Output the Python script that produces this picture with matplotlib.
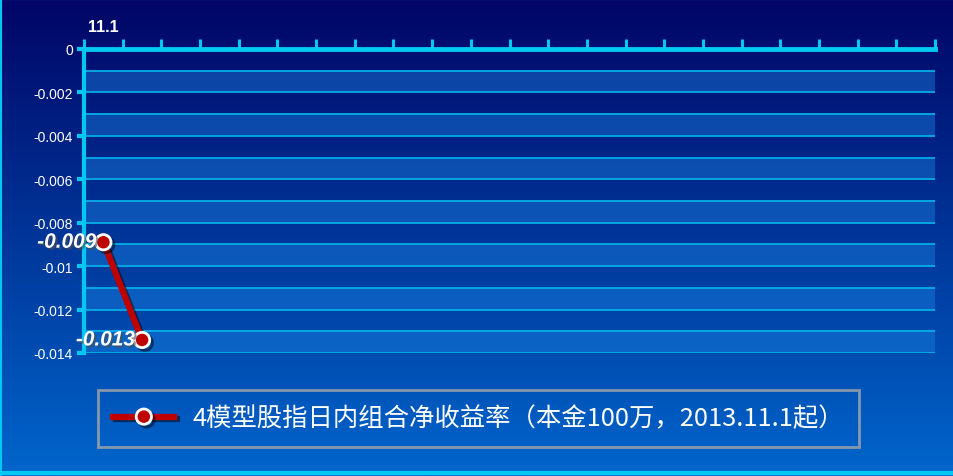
import matplotlib.pyplot as plt
import matplotlib.patheffects as pe
import numpy as np

plt.rcParams['font.family'] = ['Liberation Sans', 'DejaVu Sans']

# data
categories = ['11.1'] + [''] * 21
net_return = [-0.0089, -0.0134]
series_name = '4模型股指日内组合净收益率（本金100万，2013.11.1起）'
y_ticks = [0, -0.002, -0.004, -0.006, -0.008, -0.01, -0.012, -0.014]
y_tick_labels = ['0', '-0.002', '-0.004', '-0.006', '-0.008', '-0.01', '-0.012', '-0.014']

cyan = '#00c8f0'
grid_c = '#00aee6'

fig = plt.figure(figsize=(9.54, 4.77), dpi=100)

# gradient background
bg = fig.add_axes([0, 0, 1, 1], zorder=-10)
top = np.array([0x00, 0x05, 0x66]) / 255
bot = np.array([0x00, 0x66, 0xcc]) / 255
t = np.linspace(0, 1, 256)[:, None]
grad = top + (bot - top) * t
bg.imshow(grad[:, None, :].repeat(2, axis=1), aspect='auto', extent=[0, 1, 0, 1])
bg.set_xlim(0, 1)
bg.set_ylim(0, 1)
bg.axis('off')
# outer frame lines
bg.plot([0.001, 0.001], [0, 1], color=cyan, lw=1.5)
bg.plot([0, 1], [0.999, 0.999], color='#00a0d8', lw=1.5)
bg.plot([0, 1], [0.006, 0.006], color=cyan, lw=3)

ax = fig.add_axes([0.0881, 0.2579, 0.8920, 0.6373])
ax.patch.set_alpha(0)

n = len(categories)
x = np.arange(len(net_return))

# alternating bands and grid lines
for k in range(14):
    lo, hi = -(k + 1) * 0.001, -k * 0.001
    if k % 2 == 1:
        ax.axhspan(lo, hi, color='#1a80e0', alpha=0.45, lw=0, zorder=0)
for k in range(1, 15):
    ax.axhline(-k * 0.001, color=grid_c, lw=1.3, zorder=1)

line, = ax.plot(x, net_return, color='#c00000', lw=4.5, marker='o', markersize=11,
                markerfacecolor='#c00000', markeredgecolor='white', markeredgewidth=2,
                zorder=5, label=series_name,
                path_effects=[pe.SimpleLineShadow(offset=(2, -2), alpha=0.5), pe.Normal()])

for xi, v in zip(x, net_return):
    ax.annotate(f'{v:.3f}', (xi, v), xytext=(-5, 0), textcoords='offset points',
                ha='right', va='center', color='white', fontsize=15,
                fontweight='bold', fontstyle='italic', zorder=6,
                path_effects=[pe.SimplePatchShadow(offset=(1.5, -1.5), alpha=0.6), pe.Normal()])

ax.set_xlim(-0.5, n - 0.5)
ax.set_ylim(-0.014, 0)

# top category axis
ax.xaxis.tick_top()
ax.set_xticks(np.arange(n))
ax.set_xticklabels(categories, color='white', fontsize=11.5, fontweight='bold')
ax.set_xticks(list(np.arange(n) - 0.5) + [n - 0.5], minor=True)
ax.tick_params(axis='x', which='major', length=0, pad=11)
ax.tick_params(axis='x', which='minor', direction='out', length=7, width=2.2, color=cyan)

ax.set_yticks(y_ticks)
ax.set_yticklabels(y_tick_labels, color='white', fontsize=10)
ax.tick_params(axis='y', direction='out', length=5, width=3, color=cyan, pad=3)

for s in ['right', 'bottom']:
    ax.spines[s].set_visible(False)
ax.spines['top'].set_color(cyan)
ax.spines['top'].set_linewidth(3.5)
ax.spines['left'].set_color(cyan)
ax.spines['left'].set_linewidth(3)
ax.spines['top'].set_zorder(4)

leg = fig.legend(handles=[line], loc='center', bbox_to_anchor=(0.5016, 0.1205),
                 frameon=True, fancybox=False, handlelength=2.4,
                 handletextpad=0.7, borderpad=0.6,
                 prop={'family': ['Noto Sans CJK SC', 'DejaVu Sans'], 'size': 18.3})
leg.get_frame().set_facecolor('none')
leg.get_frame().set_edgecolor('#a8a8a8')
leg.get_frame().set_linewidth(2)
for txt in leg.get_texts():
    txt.set_color('white')

fig.savefig('out.png', dpi=100)
